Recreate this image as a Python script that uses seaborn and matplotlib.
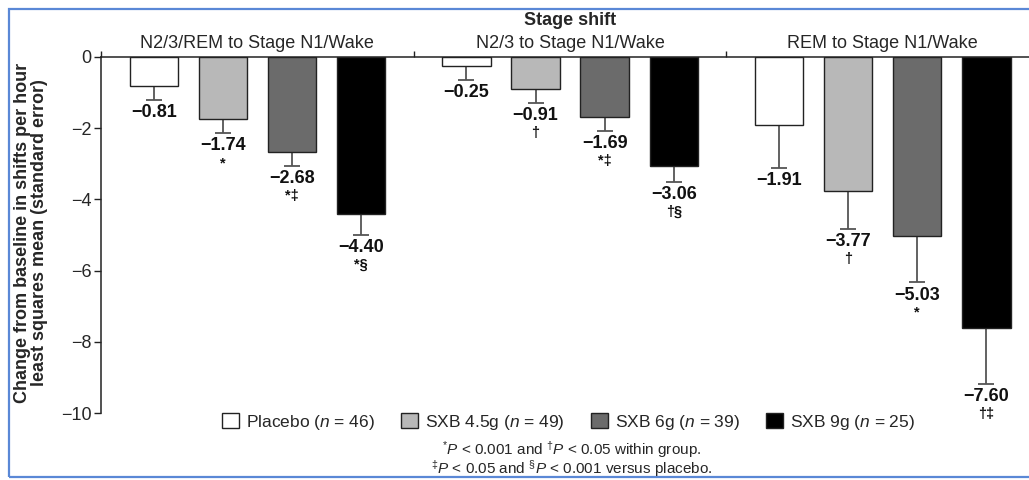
import numpy as np
import pandas as pd
import seaborn as sns
import matplotlib
matplotlib.use("Agg")
import matplotlib.pyplot as plt
from matplotlib.patches import Rectangle

# values
stages = ["N2/3/REM to Stage N1/Wake", "N2/3 to Stage N1/Wake", "REM to Stage N1/Wake"]
treatments = ["Placebo", "SXB 4.5g", "SXB 6g", "SXB 9g"]
n_per_arm = [46, 49, 39, 25]
colors = ["#ffffff", "#b8b8b8", "#6b6b6b", "#000000"]

# rows = treatment, columns = stage
ls_mean = [[-0.81, -0.25, -1.91],
           [-1.74, -0.91, -3.77],
           [-2.68, -1.69, -5.03],
           [-4.40, -3.06, -7.60]]
std_err = [[0.41, 0.40, 1.20],
           [0.40, 0.39, 1.07],
           [0.38, 0.40, 1.30],
           [0.60, 0.44, 1.58]]
signif = [["", "", ""],
          ["*", "\u2020", "\u2020"],
          ["*\u2021", "*\u2021", "*"],
          ["*\u00a7", "\u2020\u00a7", "\u2020\u2021"]]

yticks = [0, -2, -4, -6, -8, -10]

rows = []
for i, t in enumerate(treatments):
    for j, s in enumerate(stages):
        rows.append({"Stage": s, "Treatment": t, "Change": ls_mean[i][j]})
df = pd.DataFrame(rows)

sns.set_style("white")
plt.rcParams['font.family'] = ['Liberation Sans', 'DejaVu Sans']
plt.rcParams['mathtext.fontset'] = 'custom'
plt.rcParams['mathtext.rm'] = 'Liberation Sans'
plt.rcParams['mathtext.it'] = 'Liberation Sans:italic'
plt.rcParams['mathtext.bf'] = 'Liberation Sans:bold'

fig = plt.figure(figsize=(10.29, 4.8), dpi=100)
ax = fig.add_axes([0.0982, 0.1390, 0.9116, 0.7427])

sns.barplot(data=df, x="Stage", y="Change", hue="Treatment", order=stages,
            hue_order=treatments, palette=colors, width=0.884, gap=0.3,
            errorbar=None, edgecolor="#222222", linewidth=1.0, ax=ax)

bar_groups = list(ax.containers)

# one-sided standard error bars, below the bars
for i, cont in enumerate(bar_groups):
    xs = [b.get_x() + b.get_width() / 2 for b in cont]
    m = np.array(ls_mean[i])
    se = np.array(std_err[i])
    ax.errorbar(xs, m, yerr=[se, np.zeros_like(se)], fmt='none',
                ecolor="#555555", elinewidth=1.3, capsize=5.8, capthick=1.3,
                zorder=0.5)
    for j, x in enumerate(xs):
        low = m[j] - se[j]
        ax.annotate("\u2212%.2f" % abs(m[j]), xy=(x, low), xytext=(0, -3),
                    textcoords='offset points', ha='center', va='top',
                    fontsize=13, fontweight='bold', color='#111111')
        if signif[i][j]:
            ax.annotate(signif[i][j], xy=(x, low), xytext=(0, -16.5),
                        textcoords='offset points', ha='center', va='top',
                        fontsize=10.5, fontweight='bold', color='#111111')

ax.set_xlim(-0.5, 2.5)
ax.set_ylim(-10, 0)
ax.set_yticks(yticks)
ax.set_yticklabels(["\u2212%d" % abs(v) if v else "0" for v in yticks], fontsize=13)
ax.tick_params(axis='y', direction='out', length=5, width=1, color='#222222',
               pad=2, left=True)

ax.xaxis.tick_top()
ax.set_xticks(range(len(stages)))
ax.set_xticklabels(stages, fontsize=13)
ax.tick_params(axis='x', which='major', length=0, pad=3.5)
ax.set_xticks([-0.5, 0.5, 1.5, 2.5], minor=True)
ax.tick_params(axis='x', which='minor', direction='out', length=4.5, width=1,
               color='#222222', top=True, bottom=False)
ax.set_xlabel("")
ax.set_ylabel("")

for side in ["bottom", "right"]:
    ax.spines[side].set_visible(False)
for side in ["top", "left"]:
    ax.spines[side].set_color('#222222')
    ax.spines[side].set_linewidth(1.1)

handles, _ = ax.get_legend_handles_labels()
for h, c in zip(handles, colors):
    h.set_facecolor(c)
    h.set_edgecolor('#222222')
labels = ["%s ($\\mathit{n}$ = %d)" % (t, k) for t, k in zip(treatments, n_per_arm)]
ax.legend(handles, labels, loc='center', bbox_to_anchor=(0.5525, 0.1208),
          bbox_transform=fig.transFigure, ncol=4, frameon=False, fontsize=12.5,
          handlelength=1.0, handleheight=1.0, handletextpad=0.4,
          columnspacing=1.5, borderaxespad=0)

fig.text(0.554, 1 - 25 / 480, "Stage shift", ha='center', va='baseline',
         fontsize=13, fontweight='bold')
fig.text(0.030, 1 - 233 / 480,
         "Change from baseline in shifts per hour\nleast squares mean (standard error)",
         rotation=90, ha='center', va='center', fontsize=13, fontweight='bold',
         linespacing=1.0)

footnote = (r"${}^{*}\mathit{P}$ < 0.001 and ${}^{\dagger}\mathit{P}$ < 0.05 within group."
            "\n"
            r"${}^{\ddagger}\mathit{P}$ < 0.05 and ${}^{\S}\mathit{P}$ < 0.001 versus placebo.")
fig.text(0.556, 1 - 459 / 480, footnote, ha='center', va='center',
         multialignment='center', fontsize=11, linespacing=0.85)

fig.patches.append(Rectangle((8.5 / 1029, 3 / 480), 1.05, 1 - 12 / 480,
                             transform=fig.transFigure, fill=False,
                             edgecolor='#5a88d6', linewidth=1.6))

fig.savefig("out.png", dpi=100)
